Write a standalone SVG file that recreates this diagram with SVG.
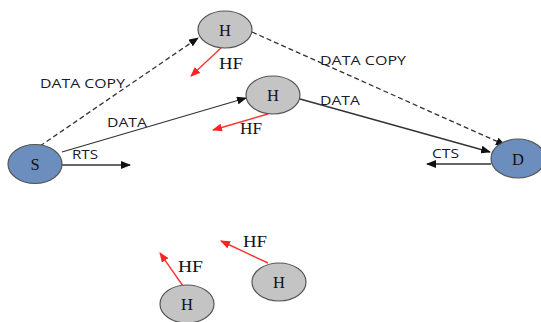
<svg xmlns="http://www.w3.org/2000/svg" width="541" height="322" viewBox="0 0 541 322">
<defs>
<style>
.g{fill:#c4c4c4;stroke:#555;stroke-width:1.2}
.b{fill:#6c8ebf;stroke:#555;stroke-width:1.2}
.nt{font-family:"Liberation Serif",serif;font-size:16.5px;fill:#111;text-anchor:middle}
.hf{font-family:"Liberation Serif",serif;font-size:16px;fill:#111}
.lb{font-family:"Open Sans","Liberation Sans",sans-serif;font-size:13px;fill:#1a1a2a}
.k{stroke:#333;stroke-width:1.3;fill:none}
.d{stroke:#333;stroke-width:1.3;fill:none;stroke-dasharray:5,3}
.r{stroke:#f33;stroke-width:1.4;fill:none}
</style>
<marker id="ak" markerWidth="10" markerHeight="8" refX="9" refY="4" orient="auto" markerUnits="userSpaceOnUse"><path d="M0,0 L10,4 L0,8 z" fill="#111"/></marker>
<marker id="ar" markerWidth="10" markerHeight="8" refX="9" refY="4" orient="auto" markerUnits="userSpaceOnUse"><path d="M0,0 L10,4 L0,8 z" fill="#f22"/></marker>
</defs>
<rect width="541" height="322" fill="#fff"/>
<g id="connectors">
<line class="d" x1="40" y1="146" x2="198" y2="38" marker-end="url(#ak)"/>
<line class="k" x1="62" y1="152" x2="246" y2="98" marker-end="url(#ak)"/>
<line class="k" x1="62" y1="165" x2="130" y2="165" marker-end="url(#ak)"/>
<line class="d" x1="252" y1="32" x2="505" y2="145" marker-end="url(#ak)"/>
<line class="k" x1="300" y1="99" x2="490" y2="152" marker-end="url(#ak)"/>
<line class="k" x1="491" y1="164" x2="427" y2="164" marker-end="url(#ak)"/>
<line class="r" x1="221" y1="48" x2="191" y2="76" marker-end="url(#ar)"/>
<line class="r" x1="268" y1="114" x2="213" y2="130" marker-end="url(#ar)"/>
<line class="r" x1="183" y1="286" x2="160" y2="253" marker-end="url(#ar)"/>
<line class="r" x1="268" y1="263" x2="221" y2="241" marker-end="url(#ar)"/>
<text class="lb" x="40" y="88" textLength="85" lengthAdjust="spacingAndGlyphs">DATA COPY</text>
<text class="lb" x="320" y="65" textLength="86" lengthAdjust="spacingAndGlyphs">DATA COPY</text>
<text class="lb" x="107" y="127" textLength="40" lengthAdjust="spacingAndGlyphs">DATA</text>
<text class="lb" x="320" y="105" textLength="40" lengthAdjust="spacingAndGlyphs">DATA</text>
<text class="lb" x="72" y="159" textLength="26" lengthAdjust="spacingAndGlyphs">RTS</text>
<text class="lb" x="432" y="158" textLength="27" lengthAdjust="spacingAndGlyphs">CTS</text>
<text class="hf" x="219" y="69" textLength="24" lengthAdjust="spacingAndGlyphs">HF</text>
<text class="hf" x="240" y="134" textLength="22" lengthAdjust="spacingAndGlyphs">HF</text>
<text class="hf" x="178" y="272" textLength="25" lengthAdjust="spacingAndGlyphs">HF</text>
<text class="hf" x="243" y="247" textLength="24" lengthAdjust="spacingAndGlyphs">HF</text>
</g>
<g id="S"><ellipse class="b" cx="35" cy="164" rx="27" ry="19.5"/><text class="nt" x="35" y="170">S</text></g>
<g id="D"><ellipse class="b" cx="518" cy="158.5" rx="27" ry="19.5"/><text class="nt" x="518" y="164.5">D</text></g>
<g id="H1"><ellipse class="g" cx="225" cy="29.5" rx="27" ry="18.5"/><text class="nt" x="225" y="35.5">H</text></g>
<g id="H2"><ellipse class="g" cx="273" cy="95" rx="27" ry="19"/><text class="nt" x="273" y="101">H</text></g>
<g id="H3"><ellipse class="g" cx="187" cy="304" rx="27" ry="19"/><text class="nt" x="187" y="310">H</text></g>
<g id="H4"><ellipse class="g" cx="279" cy="282" rx="27" ry="19"/><text class="nt" x="279" y="288">H</text></g>
</svg>
